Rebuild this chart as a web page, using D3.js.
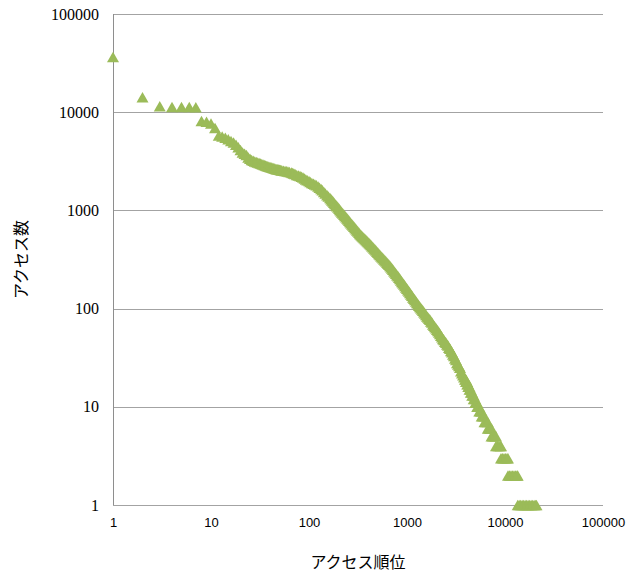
<!DOCTYPE html>
<html>
<head>
<meta charset="utf-8">
<script src="https://cdn.jsdelivr.net/npm/d3@7"></script>
<style>
  html, body { margin: 0; padding: 0; background: #ffffff; }
  svg { display: block; }
</style>
</head>
<body>
<svg id="chart" width="643" height="576"></svg>
<script>
// Rank–frequency of page accesses (log–log).
// Head of the distribution: one page per rank.
const headRanks  = [1, 2, 3, 4, 5, 6, 7, 8, 9, 10, 11, 12, 13, 14, 15, 16, 17, 18, 19];
const headCounts = [36500, 14200, 11500, 11300, 11300, 11300, 11200, 8130, 7980, 7690, 6900, 5800, 5650, 5500, 5300, 5100, 4900, 4650, 4400];

// Body of the distribution.
const bodyRanks = [
  20, 21, 22, 23, 24, 25, 26, 27, 28, 29,
  30, 31, 32, 33, 34, 35, 36, 37, 38, 39,
  40, 41, 42, 43, 44, 45, 46, 47, 48, 49,
  50, 51, 52, 53, 55, 57, 59, 61, 63, 66,
  68, 70, 72, 75, 78, 81, 84, 87, 90, 93,
  96, 100, 103, 107, 111, 115, 119, 124, 128, 133,
  137, 142, 147, 153, 158, 164, 168, 172, 176, 180,
  184, 189, 193, 198, 203, 207, 212, 217, 222, 228,
  233, 239, 245, 250, 256, 262, 268, 275, 281, 288,
  295, 302, 309, 316, 324, 331, 339, 347, 355, 364,
  373, 382, 391, 400, 410, 419, 429, 439, 450, 461,
  472, 483, 494, 506, 518, 530, 543, 556, 569, 583,
  597, 611, 626, 640, 655, 671, 687, 703, 720, 737,
  755, 772, 791, 810, 829, 848, 868, 889, 910, 932,
  954, 977, 1000, 1024, 1048, 1073, 1099, 1125, 1152, 1179,
  1207, 1236, 1265, 1295, 1326, 1357, 1389, 1423, 1457, 1491,
  1527, 1563, 1600, 1638, 1677, 1717, 1758, 1799, 1842, 1886,
  1931, 1977, 2024, 2072, 2121, 2171, 2223, 2276, 2330, 2385,
  2442, 2500, 2560, 2620, 2683, 2747, 2812, 2879, 2948, 3017,
  3089, 3162, 3238, 3315, 3394, 3474, 3557, 3641, 3728, 3816
];
const bodyCounts = [
  4120, 3890, 3780, 3670, 3460, 3360, 3260, 3200, 3150, 3110,
  3080, 3040, 3000, 2970, 2935, 2900, 2865, 2830, 2810, 2790,
  2770, 2745, 2720, 2700, 2680, 2660, 2640, 2630, 2620, 2610,
  2595, 2580, 2565, 2550, 2535, 2520, 2505, 2490, 2465, 2430,
  2405, 2380, 2345, 2290, 2265, 2240, 2200, 2160, 2110, 2060,
  2030, 1990, 1950, 1900, 1870, 1840, 1800, 1750, 1700, 1650,
  1600, 1540, 1490, 1430, 1385, 1340, 1301, 1264, 1229, 1195,
  1162, 1130, 1099, 1068, 1038, 1009, 981, 954, 928, 902,
  877, 853, 829, 806, 784, 762, 741, 720, 700, 681,
  662, 643, 625, 608, 591, 575, 562, 549, 536, 523,
  511, 499, 488, 477, 466, 455, 443, 432, 421, 410,
  400, 390, 380, 370, 360, 351, 342, 334, 325, 317,
  309, 301, 293, 286, 279, 272, 264, 256, 248, 240,
  233, 226, 219, 213, 206, 200, 193, 187, 181, 176,
  170, 164, 159, 154, 149, 144, 139, 135, 130, 126,
  122, 118, 114, 111, 107, 104, 101, 98, 95, 92,
  89, 86, 83, 81, 79, 77, 74, 72, 69, 67,
  65, 63, 61, 59, 57, 55, 53, 51, 49, 48,
  46, 45, 43, 42, 40, 39, 37, 36, 34, 33,
  31, 30, 28, 27, 26, 25, 23, 22, 21, 20
];

// Long tail: pages sharing the same small access count.
const tailRanks = [
  3900, 3999, 4000, 4114, 4115, 4221, 4222, 4343, 4344, 4476,
  4477, 4626, 4627, 4792, 4793, 4976, 4977, 5202, 5203, 5330,
  5467, 5468, 5620, 5782, 5783, 5980, 6177, 6178, 6420, 6674,
  6675, 6900, 7130, 7282, 7283, 7540, 7810, 8094, 8095, 8380,
  8680, 8990, 9103, 9104, 9430, 9770, 10120, 10480, 10729, 10730,
  11120, 11510, 11920, 12350, 12790, 13250, 13479, 13480, 13950, 14450,
  14970, 15500, 16050, 16630, 17220, 17840, 18480, 19140, 19820, 20530,
  20960
];
const tailCounts = [
  19, 19, 18, 18, 17, 17, 16, 16, 15, 15,
  14, 14, 13, 13, 12, 12, 11, 11, 10, 10,
  10, 9, 9, 9, 8, 8, 8, 7, 7, 7,
  6, 6, 6, 6, 5, 5, 5, 5, 4, 4,
  4, 4, 4, 3, 3, 3, 3, 3, 3, 2,
  2, 2, 2, 2, 2, 2, 2, 1, 1, 1,
  1, 1, 1, 1, 1, 1, 1, 1, 1, 1,
  1
];

const tickValues = [1, 10, 100, 1000, 10000, 100000];
const tickLabels = ["1", "10", "100", "1000", "10000", "100000"];
const xTitle = "アクセス順位";
const yTitle = "アクセス数";

const points = []
  .concat(headRanks.map((r, i) => ({ rank: r, count: headCounts[i] })))
  .concat(bodyRanks.map((r, i) => ({ rank: r, count: bodyCounts[i] })))
  .concat(tailRanks.map((r, i) => ({ rank: r, count: tailCounts[i] })));

const svg = d3.select("#chart");
const plot = { left: 113, right: 603, top: 14, bottom: 505 };

const x = d3.scaleLog().domain([1, 100000]).range([plot.left, plot.right]);
const y = d3.scaleLog().domain([1, 100000]).range([plot.bottom, plot.top]);

// Horizontal gridlines + y tick labels
const yAxis = d3.axisLeft(y)
  .tickValues(tickValues)
  .tickFormat((d, i) => tickLabels[i])
  .tickSize(-(plot.right - plot.left))
  .tickPadding(14);

const gy = svg.append("g")
  .attr("transform", `translate(${plot.left},0)`)
  .call(yAxis);
gy.select(".domain").remove();
gy.selectAll(".tick line").attr("stroke", "#a3a3a3").attr("stroke-width", 1)
  .attr("shape-rendering", "crispEdges");
gy.selectAll(".tick text")
  .attr("font-family", "'Liberation Serif', 'DejaVu Serif', serif")
  .attr("font-size", 16)
  .attr("fill", "#000");

// x tick labels
const xAxis = d3.axisBottom(x)
  .tickValues(tickValues)
  .tickFormat((d, i) => tickLabels[i])
  .tickSize(0)
  .tickPadding(13);

const gx = svg.append("g")
  .attr("transform", `translate(0,${plot.bottom})`)
  .call(xAxis);
gx.select(".domain").remove();
gx.selectAll(".tick text")
  .attr("font-family", "'Liberation Sans', Arial, sans-serif")
  .attr("font-size", 13)
  .attr("fill", "#000");

// Vertical axis line
svg.append("line")
  .attr("x1", plot.left).attr("x2", plot.left)
  .attr("y1", plot.top).attr("y2", plot.bottom)
  .attr("stroke", "#8e8e8e").attr("stroke-width", 1)
  .attr("shape-rendering", "crispEdges");

// Triangle markers
const tri = "M0,-5.25L6,5.25L-6,5.25Z";
svg.append("g")
  .selectAll("path")
  .data(points)
  .join("path")
  .attr("d", tri)
  .attr("transform", d => `translate(${x(d.rank)},${y(d.count)})`)
  .attr("fill", "#9bbb59");

// Axis titles
svg.append("text")
  .attr("x", (plot.left + plot.right) / 2)
  .attr("y", 568)
  .attr("text-anchor", "middle")
  .attr("font-family", "'Noto Sans CJK JP', sans-serif")
  .attr("font-size", 16)
  .attr("fill", "#000")
  .text(xTitle);

svg.append("text")
  .attr("transform", `translate(27,${(plot.top + plot.bottom) / 2}) rotate(-90)`)
  .attr("text-anchor", "middle")
  .attr("font-family", "'Noto Sans CJK JP', sans-serif")
  .attr("font-size", 16)
  .attr("fill", "#000")
  .text(yTitle);
</script>
</body>
</html>
